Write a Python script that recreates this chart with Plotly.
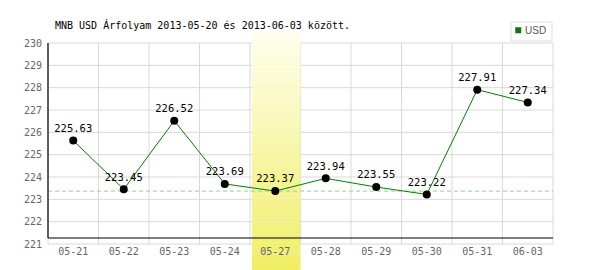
import plotly.graph_objects as go

# ---- data ----
dates = ["05-21", "05-22", "05-23", "05-24", "05-27", "05-28", "05-29", "05-30", "05-31", "06-03"]
rates = [225.63, 223.45, 226.52, 223.69, 223.37, 223.94, 223.55, 223.22, 227.91, 227.34]
y_ticks = [221, 222, 223, 224, 225, 226, 227, 228, 229, 230]
highlight_date = "05-27"
reference_rate = 223.37
series_name = "USD"
title_text = "MNB USD Árfolyam 2013-05-20 és 2013-06-03 között."

# ---- layout geometry ----
W, H = 600, 270
ML, MR, MT, MB = 48, 47, 43, 26
PW, PH = W - ML - MR, H - MT - MB
Y0, Y1 = y_ticks[0], y_ticks[-1]
N = len(dates)


def px(x):
    return (x - ML) / PW


def py(y):
    return (H - MB - y) / PH


def vy(v):
    return (v - Y0) / (Y1 - Y0)


MONO = "DejaVu Sans Mono"
GRID = "#d9d9d9"
shapes = []

# gridlines (drawn as shapes so the highlight band can sit above them)
for t in y_ticks:
    shapes.append(dict(type="line", xref="paper", yref="paper", x0=0, x1=1,
                       y0=vy(t), y1=vy(t), line=dict(color=GRID, width=1), layer="below"))
for k in range(N + 1):
    shapes.append(dict(type="line", xref="paper", yref="paper", x0=k / N, x1=k / N,
                       y0=0, y1=1, line=dict(color=GRID, width=1), layer="below"))

# highlight band with vertical gradient
hi = dates.index(highlight_date)
bx0, bx1 = (hi + 0.04) / N, (hi + 1) / N
top_px, bot_px = 32, H
c_top = (254, 254, 238)
c_bot = (240, 238, 98)
steps = 60
for s in range(steps):
    a = top_px + (bot_px - top_px) * s / steps
    b = top_px + (bot_px - top_px) * (s + 1) / steps
    f = (s + 0.5) / steps
    c = tuple(round(c_top[i] + (c_bot[i] - c_top[i]) * f) for i in range(3))
    shapes.append(dict(type="rect", xref="paper", yref="paper", x0=bx0, x1=bx1,
                       y0=py(b) - 0.001, y1=py(a), fillcolor="rgb(%d,%d,%d)" % c,
                       line=dict(width=0), layer="below"))

# reference dashed line
shapes.append(dict(type="line", xref="paper", yref="paper", x0=0, x1=1,
                   y0=vy(reference_rate), y1=vy(reference_rate),
                   line=dict(color="#8fd68f", width=1, dash="4px,3px"), layer="below"))

# axis lines
axis_y = py(238)
shapes.append(dict(type="line", xref="paper", yref="paper", x0=0, x1=1, y0=axis_y, y1=axis_y,
                   line=dict(color="black", width=1.2), layer="below"))
shapes.append(dict(type="line", xref="paper", yref="paper", x0=0, x1=0, y0=axis_y, y1=1,
                   line=dict(color="black", width=1.2), layer="below"))

# legend box
shapes.append(dict(type="rect", xref="paper", yref="paper", x0=px(511), x1=px(552),
                   y0=py(41), y1=py(22), fillcolor="white", line=dict(color="#dddddd", width=1),
                   layer="above"))
shapes.append(dict(type="rect", xref="paper", yref="paper", x0=px(515.5), x1=px(521),
                   y0=py(33), y1=py(27.5), fillcolor="#008000", line=dict(color="#555555", width=0.6),
                   layer="above"))

fig = go.Figure()
fig.add_trace(go.Scatter(
    x=dates, y=rates, mode="lines+markers+text",
    line=dict(color="#008000", width=1),
    marker=dict(color="black", size=8),
    text=["%.2f" % v for v in rates], textposition="top center",
    textfont=dict(family=MONO, size=10.5, color="black"),
    cliponaxis=False, showlegend=False, name=series_name,
))

annotations = [
    dict(text=title_text, xref="paper", yref="paper", x=px(53), y=py(25),
         xanchor="left", yanchor="middle", showarrow=False,
         font=dict(family=MONO, size=10, color="black")),
    dict(text=series_name, xref="paper", yref="paper", x=px(523), y=py(30.5),
         xanchor="left", yanchor="middle", showarrow=False,
         font=dict(family="Liberation Sans Narrow, Liberation Sans", size=10, color="#555555")),
]

fig.update_layout(
    width=W, height=H,
    margin=dict(l=ML, r=MR, t=MT, b=MB, pad=0),
    paper_bgcolor="white", plot_bgcolor="rgba(0,0,0,0)",
    shapes=shapes, annotations=annotations, showlegend=False,
    xaxis=dict(type="category", range=[-0.5, N - 0.5], showgrid=False, zeroline=False,
               showline=False, ticks="", tickfont=dict(family=MONO, size=10, color="#666666"),
               fixedrange=True),
    yaxis=dict(range=[Y0, Y1], tickvals=y_ticks, showgrid=False, zeroline=False,
               showline=False, ticks="outside", ticklen=3, tickcolor="rgba(0,0,0,0)",
               tickfont=dict(family=MONO, size=10, color="#666666"), fixedrange=True),
)

fig.write_html("out.html")
